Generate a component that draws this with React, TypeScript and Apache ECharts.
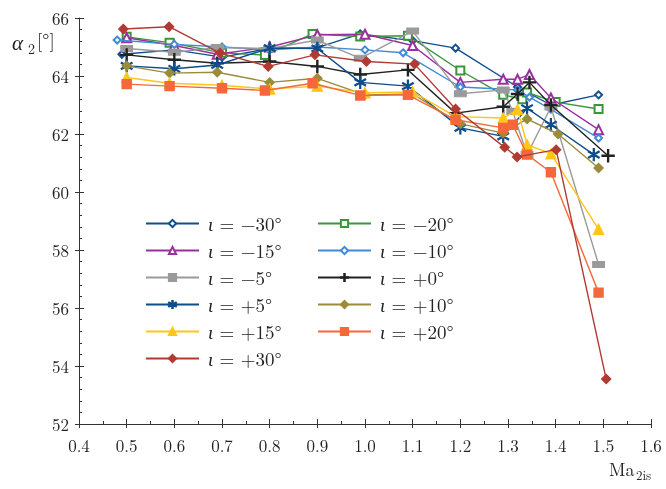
import React, { useEffect, useRef } from "react";
import * as echarts from "echarts";

const xTicks = [0.4, 0.5, 0.6, 0.7, 0.8, 0.9, 1.0, 1.1, 1.2, 1.3, 1.4, 1.5, 1.6];

const iotaLabels = ["−30°", "−20°", "−15°", "−10°", "−5°", "+0°", "+5°", "+10°", "+15°", "+20°", "+30°"];

const sM30 = [[0.49, 64.75], [0.6, 64.9], [0.7, 64.65], [0.8, 64.95], [0.9, 64.98], [0.99, 65.45], [1.1, 65.22], [1.19, 64.96], [1.32, 63.62], [1.39, 63.0], [1.49, 63.35]];
const sM20 = [[0.5, 65.35], [0.59, 65.15], [0.7, 64.8], [0.79, 64.72], [0.89, 65.45], [0.99, 65.36], [1.09, 65.39], [1.2, 64.19], [1.29, 63.35], [1.33, 63.2], [1.34, 63.43], [1.4, 63.1], [1.49, 62.86]];
const sM15 = [[0.5, 65.32], [0.6, 65.05], [0.69, 64.75], [0.8, 65.0], [0.9, 65.42], [1.0, 65.44], [1.1, 65.05], [1.2, 63.78], [1.29, 63.89], [1.32, 63.89], [1.345, 64.05], [1.39, 63.24], [1.49, 62.15]];
const sM10 = [[0.48, 65.24], [0.6, 65.09], [0.7, 65.0], [0.8, 64.9], [0.9, 65.0], [1.0, 64.9], [1.08, 64.8], [1.2, 63.62], [1.32, 63.52], [1.345, 63.27], [1.39, 62.85], [1.49, 61.86]];
const sM5 = [[0.5, 64.95], [0.6, 64.82], [0.69, 64.98], [0.8, 64.95], [0.9, 65.24], [0.99, 64.61], [1.1, 65.55], [1.2, 63.39], [1.29, 63.52], [1.31, 62.78], [1.34, 61.29], [1.39, 62.93], [1.49, 57.5]];
const sP0 = [[0.5, 64.73], [0.6, 64.56], [0.69, 64.44], [0.8, 64.5], [0.9, 64.33], [0.99, 64.05], [1.09, 64.21], [1.19, 62.72], [1.29, 62.94], [1.32, 63.38], [1.345, 63.78], [1.39, 63.0], [1.51, 61.25]];
const sP5 = [[0.5, 64.35], [0.6, 64.25], [0.69, 64.38], [0.8, 64.96], [0.9, 64.95], [0.99, 63.78], [1.09, 63.65], [1.2, 62.21], [1.29, 61.92], [1.34, 62.89], [1.39, 62.32], [1.48, 61.29]];
const sP10 = [[0.5, 64.35], [0.59, 64.1], [0.69, 64.13], [0.8, 63.78], [0.9, 63.92], [1.0, 63.35], [1.1, 63.38], [1.2, 62.35], [1.29, 62.03], [1.34, 62.52], [1.405, 62.0], [1.49, 60.83]];
const sP15 = [[0.5, 63.95], [0.59, 63.75], [0.7, 63.68], [0.8, 63.55], [0.9, 63.65], [1.0, 63.42], [1.1, 63.45], [1.19, 62.6], [1.29, 62.55], [1.32, 62.84], [1.34, 61.63], [1.39, 61.32], [1.49, 58.71]];
const sP20 = [[0.5, 63.72], [0.59, 63.65], [0.7, 63.58], [0.79, 63.5], [0.89, 63.75], [0.99, 63.33], [1.09, 63.35], [1.19, 62.49], [1.29, 62.21], [1.31, 62.32], [1.34, 61.29], [1.39, 60.68], [1.49, 56.53]];
const sP30 = [[0.493, 65.62], [0.589, 65.7], [0.696, 64.79], [0.797, 64.33], [0.895, 64.73], [1.003, 64.5], [1.104, 64.41], [1.19, 62.86], [1.293, 61.54], [1.319, 61.21], [1.401, 61.46], [1.506, 53.55]];

const seriesData = [sM30, sM20, sM15, sM10, sM5, sP0, sP5, sP10, sP15, sP20, sP30];

const PLUS = "path://M9.2,0 L10.8,0 L10.8,9.2 L20,9.2 L20,10.8 L10.8,10.8 L10.8,20 L9.2,20 L9.2,10.8 L0,10.8 L0,9.2 L9.2,9.2 Z";
const ASTER =
  "path://M9.3,0 L10.7,0 L10.7,20 L9.3,20 Z M1.0,5.6 L1.7,4.4 L19.0,14.4 L18.3,15.6 Z M1.7,15.6 L1.0,14.4 L18.3,4.4 L19.0,5.6 Z";

const styles = [
  { color: "#114e8b", symbol: "emptyDiamond", size: 7 },
  { color: "#3a963a", symbol: "emptyRect", size: 8 },
  { color: "#9b2f9f", symbol: "emptyTriangle", size: 9 },
  { color: "#3f8bd4", symbol: "emptyDiamond", size: 7 },
  { color: "#9a9a9a", symbol: "rect", size: [11, 6] },
  { color: "#222222", symbol: PLUS, size: 12 },
  { color: "#0e4c8a", symbol: ASTER, size: 12 },
  { color: "#9b8b3a", symbol: "diamond", size: 9 },
  { color: "#ffc61a", symbol: "triangle", size: 10 },
  { color: "#f4683a", symbol: "rect", size: 9 },
  { color: "#b23a32", symbol: "diamond", size: 9 },
];

const FONT = "'Latin Modern Roman', 'CMU Serif', 'Liberation Serif', 'DejaVu Serif', serif";

export default function App() {
  const ref = useRef<HTMLDivElement>(null);
  useEffect(() => {
    const chart = echarts.init(ref.current!, null, { renderer: "svg" });
    const names = iotaLabels.map((l) => "ι = " + l);
    const series = seriesData.map((d, i) => ({
      name: names[i],
      type: "line",
      data: d,
      symbol: styles[i].symbol,
      symbolSize: styles[i].size,
      symbolKeepAspect: true,
      showAllSymbol: true,
      lineStyle: { color: styles[i].color, width: 1.4 },
      itemStyle: { color: styles[i].color, borderColor: styles[i].color, borderWidth: 1.4 },
      emphasis: { disabled: true },
      z: 2 + i,
    }));
    const legendBase = {
      orient: "vertical",
      itemWidth: 53,
      itemHeight: 9,
      itemGap: 8,
      selectedMode: false,
      formatter: (n: string) => "{i|ι}\u2004=\u2004" + n.slice(4),
      textStyle: {
        fontFamily: FONT,
        fontSize: 19,
        lineHeight: 16,
        color: "#222",
        padding: [0, 0, 0, 4],
        rich: { i: { fontFamily: FONT, fontSize: 19, fontStyle: "italic", color: "#222", lineHeight: 16 } },
      },
    };
    const leftNames = [0, 2, 4, 6, 8, 10].map((i) => names[i]);
    const rightNames = [1, 3, 5, 7, 9].map((i) => names[i]);
    const axisLabel = { fontFamily: FONT, fontSize: 17, color: "#222" };
    chart.setOption({
      animation: false,
      grid: { left: 79, right: 15, top: 18, bottom: 65 },
      legend: [
        { ...legendBase, data: leftNames, left: 140, top: 209 },
        { ...legendBase, data: rightNames, left: 312, top: 209 },
      ],
      xAxis: [
        {
          type: "value",
          min: 0.4,
          max: 1.6,
          interval: 0.1,
          axisLine: { show: true, lineStyle: { color: "#333", width: 1 } },
          axisTick: { show: true, inside: true, length: 5, lineStyle: { color: "#333" } },
          minorTick: { show: true, splitNumber: 2, length: 3, lineStyle: { color: "#333" } },
          splitLine: { show: false },
          axisLabel: { ...axisLabel, margin: 12, formatter: (v: number) => v.toFixed(1) },
        },
        {
          type: "value",
          min: 0.4,
          max: 1.6,
          interval: 0.1,
          position: "bottom",
          axisLine: { show: false },
          axisTick: { show: true, inside: false, length: 4, lineStyle: { color: "#333" } },
          splitLine: { show: false },
          axisLabel: { show: false },
        },
      ],
      yAxis: [
        {
          type: "value",
          min: 52,
          max: 66,
          interval: 2,
          axisLine: { show: true, lineStyle: { color: "#333", width: 1 } },
          axisTick: { show: true, inside: true, length: 5, lineStyle: { color: "#333" } },
          minorTick: { show: true, splitNumber: 5, length: 3, lineStyle: { color: "#333" } },
          splitLine: { show: false },
          axisLabel: { ...axisLabel, margin: 10 },
        },
        {
          type: "value",
          min: 52,
          max: 66,
          interval: 2,
          position: "left",
          axisLine: { show: false },
          axisTick: { show: true, inside: false, length: 4, lineStyle: { color: "#333" } },
          splitLine: { show: false },
          axisLabel: { show: false },
        },
      ],
      graphic: [
        { type: "text", left: 12, top: 30, style: { text: "α", font: `italic 21px ${FONT}`, fill: "#222" } },
        { type: "text", left: 28, top: 41, style: { text: "2", font: `14px ${FONT}`, fill: "#222" } },
        { type: "text", left: 37, top: 30, style: { text: "[°]", font: `19px ${FONT}`, fill: "#222" } },
        { type: "text", left: 609, top: 459, style: { text: "Ma", font: `18px ${FONT}`, fill: "#222" } },
        { type: "text", left: 636, top: 468, style: { text: "2is", font: `13px ${FONT}`, fill: "#222" } },
      ],
      series,
    });
    return () => chart.dispose();
  }, []);
  return <div ref={ref} style={{ position: "fixed", left: 0, top: 0, width: 666, height: 489 }} />;
}
